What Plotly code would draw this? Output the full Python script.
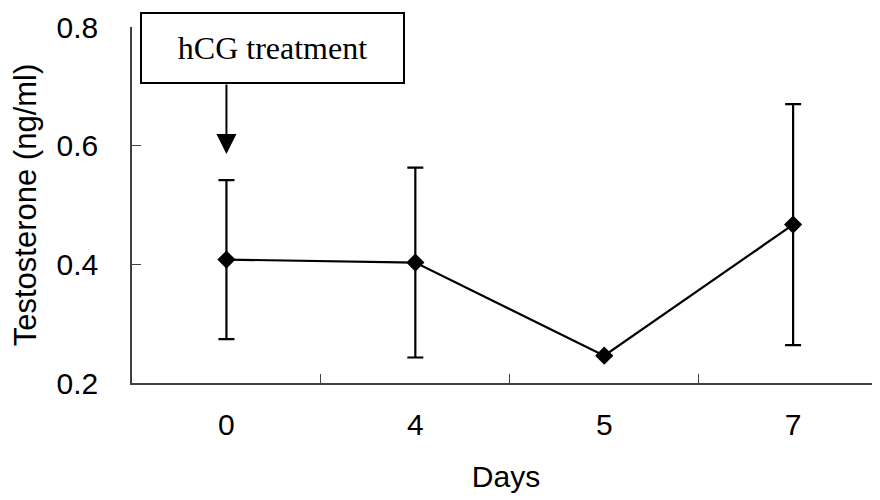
import plotly.graph_objects as go

days = ["0", "4", "5", "7"]
testosterone = [0.408, 0.403, 0.246, 0.467]
sem = [0.134, 0.160, 0.0, 0.203]
y_ticks = [0.2, 0.4, 0.6, 0.8]

fig = go.Figure()
fig.add_trace(go.Scatter(
    x=days, y=testosterone,
    mode="lines+markers",
    line=dict(color="black", width=2.2),
    marker=dict(symbol="diamond", size=14, color="black"),
    error_y=dict(type="data", array=sem, visible=True, color="black",
                 thickness=2.2, width=8),
    showlegend=False,
))

axis_color = "#404040"
fig.update_layout(
    width=880, height=500,
    margin=dict(l=124, r=8, t=19, b=125),
    paper_bgcolor="white", plot_bgcolor="white",
    font=dict(family="Liberation Sans, Arial, sans-serif", color="black"),
    xaxis=dict(
        type="category", range=[-0.5, 3.46], automargin=False,
        showline=True, linecolor=axis_color, linewidth=1.5,
        ticks="inside", ticklen=9, tickcolor=axis_color, tickwidth=1,
        tickson="boundaries", showgrid=False, zeroline=False,
        tickfont=dict(size=30), ticklabelstandoff=14,
        title=dict(text="Days", font=dict(size=30), standoff=26),
    ),
    yaxis=dict(
        range=[0.2, 0.8], tickvals=y_ticks, tickformat=".1f", automargin=False,
        showline=True, linecolor=axis_color, linewidth=1.5,
        ticks="inside", ticklen=9, tickcolor=axis_color, tickwidth=1,
        showgrid=False, zeroline=False,
        tickfont=dict(size=30), ticklabelstandoff=26,
        title=dict(text="Testosterone (ng/ml)", font=dict(size=31), standoff=18),
    ),
)

fig.add_annotation(
    x="0", y=0.586, xref="x", yref="y", text="",
    showarrow=True, ax=0, ay=-71, arrowhead=2, arrowsize=2, arrowwidth=2,
    arrowcolor="black",
)
fig.add_annotation(
    x=0.1885, y=0.942, xref="paper", yref="paper",
    text="hCG treatment", showarrow=False,
    font=dict(family="Liberation Serif, Times New Roman, serif", size=32, color="black"),
    bgcolor="white", bordercolor="black", borderwidth=2, borderpad=0,
    width=261, height=68, xanchor="center", yanchor="middle",
)

fig.write_html("out.html")
